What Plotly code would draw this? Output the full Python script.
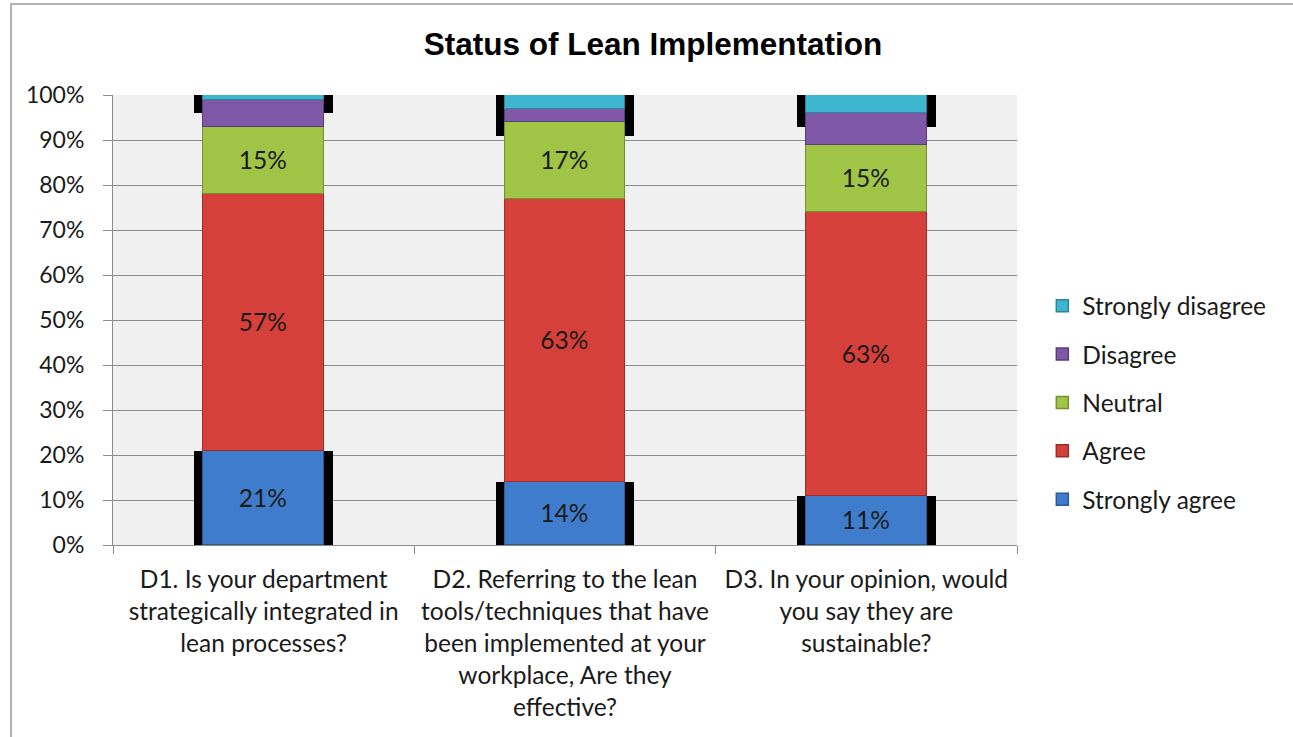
import plotly.graph_objects as go

# Survey questions (x categories)
questions = [
    "D1. Is your department<br>strategically integrated in<br>lean processes?",
    "D2. Referring to the lean<br>tools/techniques that have<br>been implemented at your<br>workplace, Are they<br>effective?",
    "D3. In your opinion, would<br>you say they are<br>sustainable?",
]

# Response shares in percent, per question
strongly_agree = [21, 14, 11]
agree = [57, 63, 63]
neutral = [15, 17, 15]
disagree = [6, 3, 7]
strongly_disagree = [1, 3, 4]

# Height of the dark top cap drawn behind each bar (percent)
top_cap = [4, 9, 7]

y_ticks = [0, 10, 20, 30, 40, 50, 60, 70, 80, 90, 100]

series = [
    ("Strongly agree", strongly_agree, "#3f7dcc", "#2a5a9a", True),
    ("Agree", agree, "#d6403b", "#9e2b27", True),
    ("Neutral", neutral, "#9fc446", "#73912e", True),
    ("Disagree", disagree, "#7f58a8", "#5a3c7c", False),
    ("Strongly disagree", strongly_disagree, "#3fb6cf", "#2a8699", False),
]

FONT = "Lato, Carlito, Calibri, sans-serif"

fig = go.Figure()

# Dark backing caps (bottom and top) on the base subplot, behind the colored bars
gap = [100 - a - t for a, t in zip(strongly_agree, top_cap)]
for vals, col in [(strongly_agree, "black"), (gap, "rgba(0,0,0,0)"), (top_cap, "black")]:
    fig.add_trace(go.Bar(
        x=questions, y=vals, width=0.46, marker=dict(color=col, line=dict(width=0)),
        showlegend=False, hoverinfo="skip", xaxis="x", yaxis="y",
    ))

n = len(series)
for i, (name, vals, col, edge, labelled) in enumerate(series):
    fig.add_trace(go.Bar(
        x=questions, y=vals, name=name, width=0.40,
        marker=dict(color=col, line=dict(color=edge, width=1.5)),
        text=[f"{v}%" for v in vals] if labelled else None,
        textposition="inside" if labelled else "none",
        insidetextanchor="middle",
        textfont=dict(family=FONT, size=24.5, color="#1a1a1a"),
        constraintext="none",
        legendgroup=name, legendrank=n - i,
        xaxis="x2", yaxis="y",
    ))

fig.update_layout(
    width=1293, height=737,
    barmode="stack",
    paper_bgcolor="white",
    plot_bgcolor="#f0f0f0",
    margin=dict(l=113, r=276, t=95, b=192),
    title=dict(
        text="<b>Status of Lean Implementation</b>",
        font=dict(family="Liberation Sans, Arial, sans-serif", size=31.5, color="black"),
        x=0.505, xref="container", xanchor="center",
        y=1 - 44 / 737, yref="container", yanchor="middle",
    ),
    font=dict(family=FONT, size=20, color="#1a1a1a"),
    xaxis=dict(
        range=[-0.5, 2.5], type="category",
        showgrid=False, showline=True, linecolor="#8c8c8c", linewidth=1,
        ticks="outside", tickson="boundaries", ticklen=8, tickcolor="#8c8c8c",
        tickfont=dict(family=FONT, size=24.5, color="#1a1a1a"),
        zeroline=False, ticklabelstandoff=13,
    ),
    xaxis2=dict(
        range=[-0.5, 2.5], type="category", overlaying="x", matches="x",
        visible=False, showgrid=False,
    ),
    yaxis=dict(
        range=[0, 100], tickvals=y_ticks, ticktext=[f"{v}%" for v in y_ticks],
        showgrid=True, gridcolor="#8c8c8c", gridwidth=1,
        showline=True, linecolor="#8c8c8c", linewidth=1,
        ticks="outside", ticklen=9, tickcolor="#8c8c8c",
        tickfont=dict(family=FONT, size=23, color="#1a1a1a"),
        zeroline=False, ticklabelstandoff=14,
    ),
    legend=dict(
        x=1.028, xanchor="left", y=0.316, yanchor="middle",
        traceorder="grouped", tracegroupgap=13.5,
        font=dict(family=FONT, size=24.5, color="#1a1a1a"),
        bgcolor="rgba(0,0,0,0)",
    ),
    bargap=0, showlegend=True,
    shapes=[dict(
        type="rect", xref="paper", yref="paper",
        x0=(11 - 113) / 904, x1=1.6, y0=-1.0, y1=(545 - 4) / 450,
        line=dict(color="#9a9a9a", width=1.5), fillcolor="rgba(0,0,0,0)", layer="below",
    )],
)

fig.write_html("out.html")
